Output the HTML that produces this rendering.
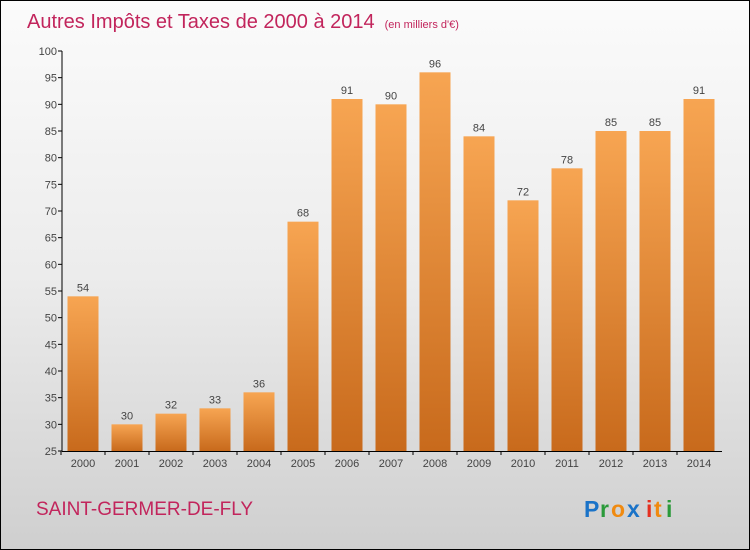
<!DOCTYPE html>
<html><head><meta charset="utf-8"><style>
body{margin:0}
#c{width:748px;height:548px;border:1px solid #000;position:relative;background:linear-gradient(#fbfbfb 0%,#ececec 50%,#cfcfcf 100%);font-family:"Liberation Sans",sans-serif;overflow:hidden}
</style></head><body>
<div id="c">
<svg id="s" width="748" height="548" style="position:absolute;left:0;top:0">
<defs><linearGradient id="g" x1="0" y1="0" x2="0" y2="1"><stop offset="0" stop-color="#f7a552"/><stop offset="1" stop-color="#c86a1c"/></linearGradient></defs>
<text x="26" y="27" font-size="20" fill="#c2255c">Autres Impôts et Taxes de 2000 à 2014<tspan font-size="11" dx="10">(en milliers d'€)</tspan></text>
<text x="35" y="514" font-size="19" fill="#c2255c">SAINT-GERMER-DE-FLY</text>
<g font-size="23" font-weight="bold"><text x="583" y="516" fill="#1a73c8">P</text><text x="599" y="516" fill="#2a9a3a">r</text><text x="610" y="516" fill="#f08a10">o</text><text x="626" y="516" fill="#1a73c8">x</text><text x="645" y="516" fill="#e53020">i</text><text x="653" y="516" fill="#f08a10">t</text><text x="665" y="516" fill="#2a9a3a">i</text></g>
</svg>
</div>
<script>
const years=["2000","2001","2002","2003","2004","2005","2006","2007","2008","2009","2010","2011","2012","2013","2014"];
const values=[54,30,32,33,36,68,91,90,96,84,72,78,85,85,91];
const ticks=[25,30,35,40,45,50,55,60,65,70,75,80,85,90,95,100];
const s=document.getElementById('s');const NS='http://www.w3.org/2000/svg';
const y=v=>450-(v-25)*400/75;const x=i=>82+i*44;
function mk(t,a){const e=document.createElementNS(NS,t);for(const k in a)e.setAttribute(k,a[k]);s.appendChild(e);return e;}
ticks.forEach(t=>{const l=mk('line',{x1:57,x2:61,y1:y(t),y2:y(t),stroke:'#000'});


const tx=mk('text',{x:56,y:y(t)+4,'text-anchor':'end','font-size':11,fill:'#444'});tx.textContent=t;

});
values.forEach((v,i)=>{const r=mk('rect',{x:x(i)-15.5,y:y(v),width:31,height:450-y(v),fill:'url(#g)'});


const t=mk('text',{x:x(i),y:y(v)-5,'text-anchor':'middle','font-size':11,fill:'#444'});t.textContent=v;


const yl=mk('text',{x:x(i),y:466,'text-anchor':'middle','font-size':11,fill:'#444'});yl.textContent=years[i];


const tk=mk('line',{x1:x(i)-22,x2:x(i)-22,y1:450,y2:454,stroke:'#000'});

});
const ya=mk('line',{x1:61,x2:61,y1:y(100),y2:450,stroke:'#000'});


const xa=mk('line',{x1:61,x2:721,y1:450.5,y2:450.5,stroke:'#000'});


</script>
</body></html>
